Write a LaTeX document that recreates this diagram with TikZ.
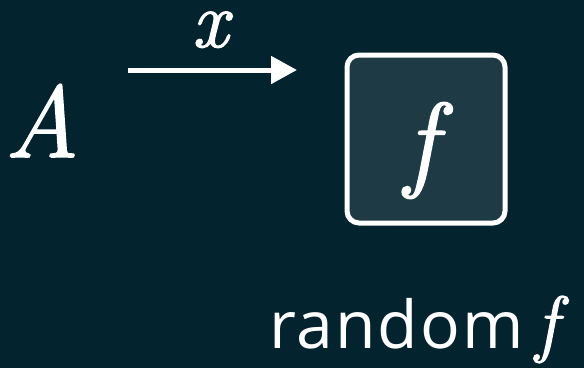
\documentclass[tikz,border=0pt]{standalone}
\usepackage{fontspec}
\newfontfamily\serit{Latin Modern Roman}[FakeBold=1.6]
\newfontfamily\labelfont{Open Sans}[LetterSpace=3]
\usetikzlibrary{arrows.meta}
\definecolor{bgc}{HTML}{03232F}
\definecolor{boxc}{HTML}{1D3A45}
\tikzset{
  mathlbl/.style={text=white, inner sep=0pt},
  fbox/.style={draw=white, fill=boxc, line width=5pt, rounded corners=12pt, minimum width=158pt, minimum height=168pt, inner sep=0pt},
  flow/.style={draw=white, line width=5pt, -{Triangle[length=26pt,width=27pt]}},
  caption/.style={text=white, font=\labelfont\fontsize{66}{70}\selectfont, inner sep=0pt, anchor=base west}
}
\begin{document}
\begin{tikzpicture}[x=1pt,y=-1pt]
  \fill[bgc] (0,0) rectangle (584,368);
  \useasboundingbox (0,0) rectangle (584,368);
  \node[mathlbl, anchor=base, font=\serit\itshape\fontsize{102}{106}\selectfont] (A) at (42,157) {A};
  \coordinate (s) at (128,70);
  \coordinate (t) at (297,70);
  \draw[flow] (s) -- (t);
  \node[mathlbl, anchor=base, text height=0.44em, text depth=0pt, font=\serit\itshape\fontsize{80}{82}\selectfont] (xl) at (210,47) {x};
  \node[fbox] (F) at (426,139) {};
  \node[mathlbl, anchor=base, font=\serit\itshape\fontsize{106}{108}\selectfont] (fl) at (421,177) {f};
  \node[caption] (cap) at (269,348) {random\hspace{12pt}{\serit\itshape\fontsize{74}{76}\selectfont f}};
\end{tikzpicture}
\end{document}
